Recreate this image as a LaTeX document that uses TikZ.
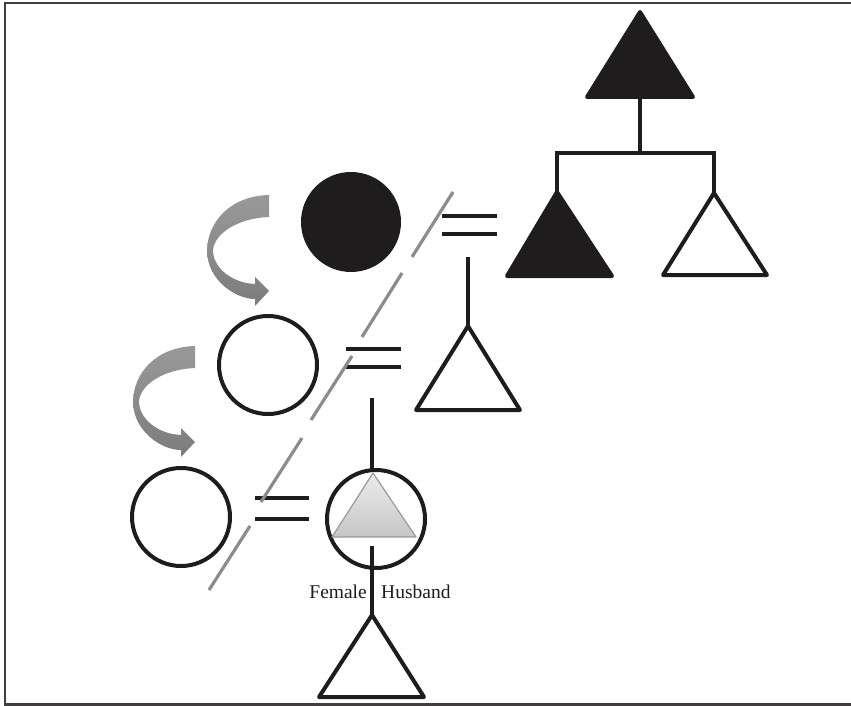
\documentclass[tikz,border=0pt]{standalone}
\usepackage{fontspec}
\setmainfont{Liberation Serif}
\definecolor{ink}{RGB}{30,28,28}
\definecolor{slashgray}{RGB}{140,140,140}
\definecolor{arrowgray}{RGB}{135,135,135}
\begin{document}
\begin{tikzpicture}[x=1pt,y=-1pt,
  kin/.style={line width=4pt,draw=ink},
  filledkin/.style={kin,fill=ink},
  link/.style={line width=4pt,draw=ink},
  slash/.style={line width=3.2pt,draw=slashgray},
  frame/.style={line width=2.5pt,draw=ink!85},
  curved/.style={top color=arrowgray!85!white,bottom color=arrowgray!92!black,draw=none},
  label/.style={font=\fontsize{19.5}{19.5}\selectfont,text=ink,inner sep=0pt}]
\useasboundingbox (0,0) rectangle (851,706);
% frame
\draw[frame] (5,706) -- (5,3) -- (851,3);
\draw[frame] (5,704.5) -- (851,704.5);

% top generation
\coordinate (topA) at (640,12);
\coordinate (topB) at (640,97);
\filldraw[filledkin,line join=round] (topA) -- (587,97) -- (693,97) -- cycle;
\coordinate (bar) at (640,153);
\coordinate (barL) at (557,153);
\coordinate (barR) at (714,153);
\coordinate (sibA) at (557,192);
\coordinate (sibB) at (714,193);
\draw[link] (topB) -- (bar);
\draw[link,line cap=rect] (barL) -- (barR);
\draw[link] (barL) -- (sibA);
\draw[link] (barR) -- (sibB);
\filldraw[filledkin,line join=round] (sibA) -- (507,276) -- (612,276) -- cycle;
\draw[kin,line join=round] (sibB) -- (663,275) -- (767,275) -- cycle;

% first wife (filled)
\node[circle,fill=ink,minimum size=100pt,inner sep=0pt] (w1) at (351,222) {};
\coordinate (e1a) at (442,216); \coordinate (e1b) at (497,216);
\coordinate (e1c) at (442,234); \coordinate (e1d) at (497,234);
\draw[link] (e1a) -- (e1b);
\draw[link] (e1c) -- (e1d);
\coordinate (d1t) at (468,257); \coordinate (d1b) at (468,326);
\draw[link] (d1t) -- (d1b);
\draw[kin,line join=round] (d1b) -- (416,410) -- (520,410) -- cycle;

% second wife
\node[circle,draw=ink,line width=4pt,minimum size=98pt,inner sep=0pt] (w2) at (268,365) {};
\coordinate (e2a) at (346,349); \coordinate (e2b) at (401,349);
\coordinate (e2c) at (346,367); \coordinate (e2d) at (401,367);
\draw[link] (e2a) -- (e2b);
\draw[link] (e2c) -- (e2d);
\coordinate (d2t) at (372,398); \coordinate (d2b) at (372,469);
\draw[link] (d2t) -- (d2b);

% female husband
\node[circle,draw=ink,line width=4pt,minimum size=98pt,inner sep=0pt] (fh) at (376,519) {};
\shade[top color=gray!15,bottom color=gray!45,draw=gray!80,line width=1.2pt,line join=round]
  (373,473) -- (332,537) -- (416,537) -- cycle;
\coordinate (d3t) at (372,546); \coordinate (d3b) at (372,615);
\draw[link] (d3t) -- (d3b);
\draw[kin,line join=round] (d3b) -- (319,697) -- (424,697) -- cycle;
\node[label,anchor=base east] (fem) at (367,598) {Female};
\node[label,anchor=base west] (hus) at (381,598) {Husband};

% third wife
\node[circle,draw=ink,line width=4pt,minimum size=98pt,inner sep=0pt] (w3) at (181,517) {};
\coordinate (e3a) at (255,498); \coordinate (e3b) at (309,498);
\coordinate (e3c) at (255,519); \coordinate (e3d) at (309,519);
\draw[link] (e3a) -- (e3b);
\draw[link] (e3c) -- (e3d);

% gray slash
\coordinate (s1a) at (453,192); \coordinate (s1b) at (412,257);
\coordinate (s2a) at (402,273); \coordinate (s2b) at (362,337);
\coordinate (s3a) at (352,356); \coordinate (s3b) at (311,420);
\coordinate (s4a) at (302,438); \coordinate (s4b) at (261,502);
\coordinate (s5a) at (250,526); \coordinate (s5b) at (209,590);
\draw[slash] (s1a) -- (s1b);
\draw[slash] (s2a) -- (s2b);
\draw[slash] (s3a) -- (s3b);
\draw[slash] (s4a) -- (s4b);
\draw[slash] (s5a) -- (s5b);

% curved arrows
\foreach \dx/\dy in {0/0,-74/151}{
  \begin{scope}[shift={(\dx,\dy)}]
  \shade[curved] (269,195) .. controls (230,196) and (207,222) .. (207,252)
     .. controls (208,280) and (235,299) .. (255,299) -- (255,306) -- (269,291)
     -- (255,277) -- (255,284) .. controls (232,283) and (213,268) .. (213,250)
     .. controls (215,232) and (240,218) .. (269,217) -- cycle;
  \end{scope}
}
\end{tikzpicture}
\end{document}
